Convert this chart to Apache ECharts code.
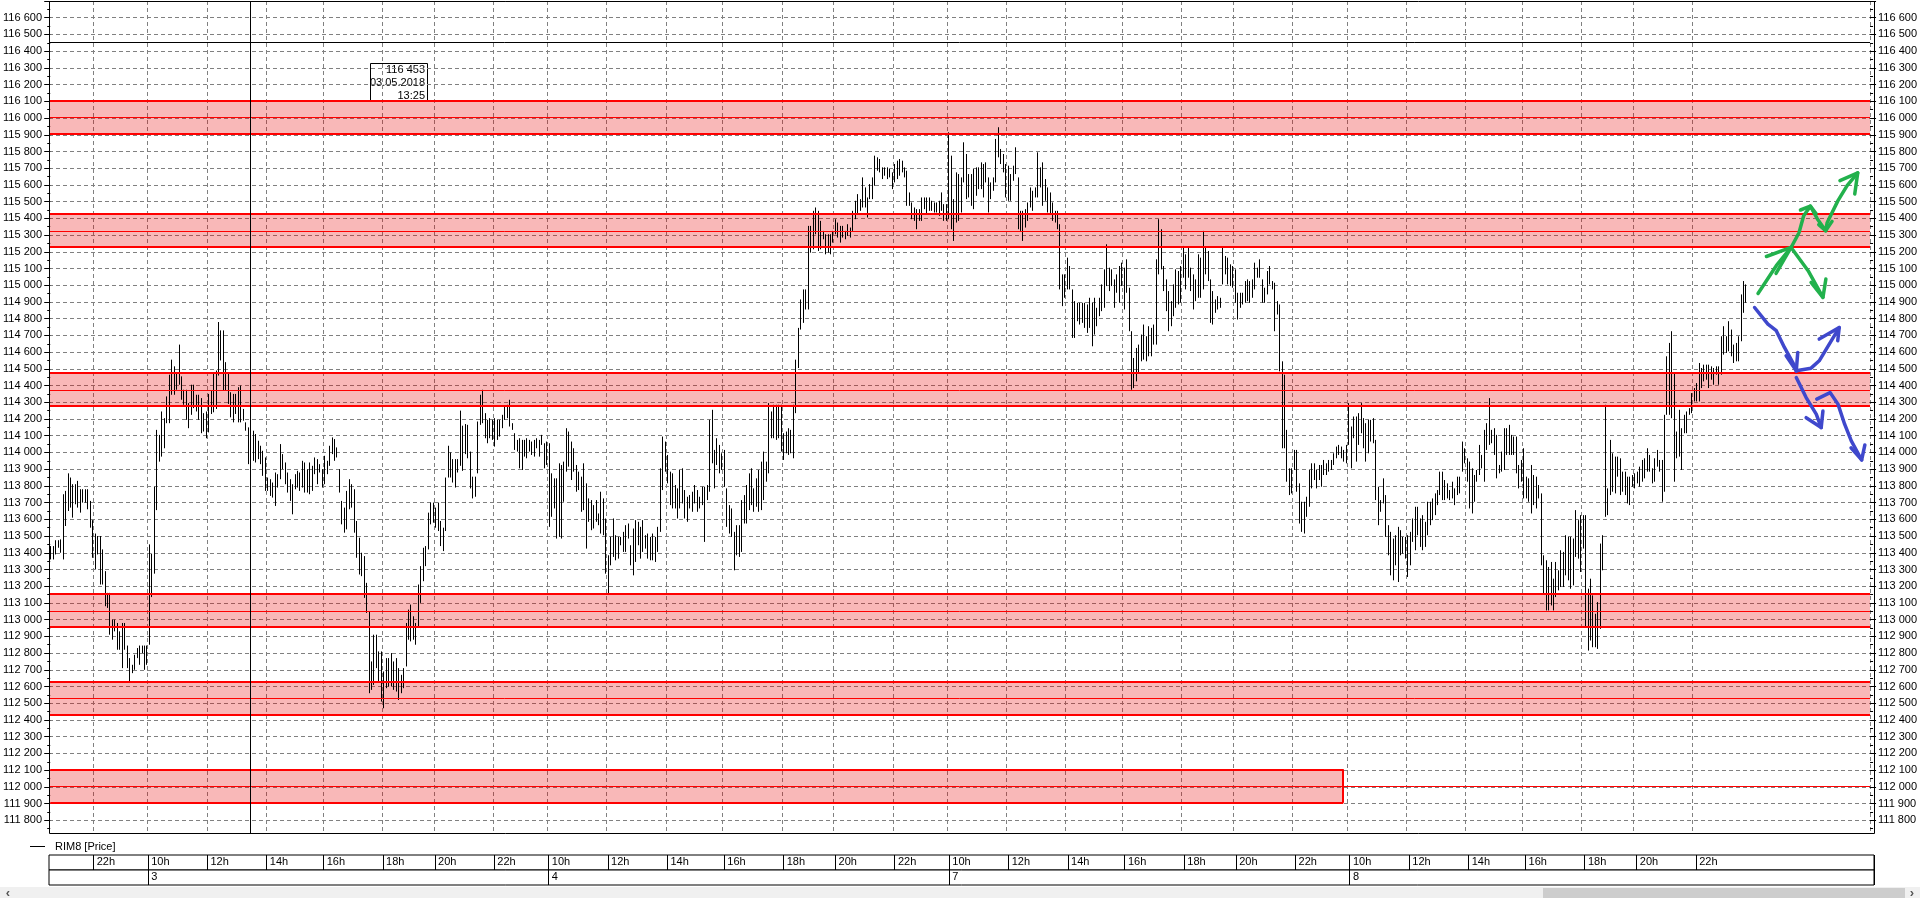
<!DOCTYPE html>
<html><head><meta charset="utf-8">
<script src="https://cdn.jsdelivr.net/npm/echarts@6/dist/echarts.min.js"></script>
<style>html,body{margin:0;padding:0;background:#fff;overflow:hidden}#c{width:1920px;height:898px}</style>
</head><body><div id="c"></div>
<script>
// ---------- time axis schedule (5-minute bars) ----------
const sessionDays = ['2', '3', '4', '7', '8'];
const firstDayBlocks = [[1230, 18], [1320, 22]];
const fullDayBlocks = [[600, 24], [720, 24], [845, 23], [960, 24], [1080, 9], [1140, 12], [1200, 24], [1320, 22]];
const labelledStarts = [600, 720, 845, 960, 1080, 1200, 1320];
const emptySlots = 50;

// ---------- price bars (high / low) per trading day ----------
const d2High = [113440,113440,113475,113475,113480,113750,113770,113875,113850,113810,113810,113830,113780,113780,113780,113780,113710,113595,
 113515,113500,113500,113420,113290,113160,113160,113000,113000,112980,112930,112980,112980,112845,112770,112730,112790,112830,112845,112845,112845,112845];
const d2Low = [113360,113360,113390,113430,113400,113360,113560,113650,113670,113610,113690,113670,113640,113700,113700,113660,113550,113370,
 113300,113390,113210,113210,113080,113070,112910,112880,112930,112820,112820,112710,112820,112710,112630,112680,112700,112770,112730,112800,112700,112730];

const d3High = [113450,113395,113795,114135,114105,114245,114205,114335,114465,114555,114515,114475,114645,114455,114375,114375,114295,114405,114405,114345,114345,114325,114235,114245,
 114350,114370,114470,114490,114780,114730,114730,114540,114480,114360,114350,114350,114390,114400,114260,114180,114150,114160,114130,114110,114070,114040,114010,113970,
 113850,113840,113820,113880,113870,114050,113990,113940,113880,113840,113810,113870,113890,113880,113950,113940,113900,113940,113920,113970,113960,113930,113900,
 113980,113950,114040,114090,114080,114030,113900,113710,113670,113770,113840,113810,113780,113590,113490,113400,113380,113220,113050,112750,112910,112910,112810,112810,
 112690,112770,112770,112800,112750,112770,112710,112670,112710,112980,113060,113090,113020,112980,113210,113320,113430,113440,113640,113700,113700,
 113670,113700,113590,113550,113850,114040,114000,113960,113960,113960,114250,114160,114170,114165,114005,113855,113855,114185,114345,114375,114235,114195,114205,114195,
 114205,114195,114195,114225,114275,114285,114315,114175,114115,114075,114085,114075,114075,114085,114075,114065,114075,114085,114075,114105,114055,114065];
const d3Low = [112850,113135,113275,113655,113945,113975,114025,114175,114175,114345,114345,114375,114405,114315,114285,114195,114145,114225,114265,114245,114195,114115,114125,114085,
 114120,114230,114240,114260,114460,114550,114370,114370,114290,114210,114180,114230,114180,114180,114190,114130,113930,114030,113950,113940,113960,113930,113860,113770,
 113770,113740,113730,113680,113790,113840,113900,113810,113760,113710,113630,113780,113790,113770,113790,113760,113760,113750,113770,113870,113810,113880,113790,
 113810,113870,113920,113990,113950,113970,113760,113570,113520,113540,113660,113670,113520,113370,113270,113260,113130,113040,112560,112580,112610,112710,112630,112510,
 112470,112590,112600,112600,112580,112570,112520,112560,112590,112720,112880,112870,112880,112850,112960,113100,113230,113320,113420,113570,113580,
 113550,113530,113440,113410,113530,113850,113850,113820,113790,113880,113920,113890,113990,113965,113785,113725,113735,113875,114165,114175,114085,114055,114085,114075,
 114035,114075,114095,114145,114195,114205,114155,114135,114015,114005,113905,113895,113975,113965,114005,113985,113975,114025,113975,114045,113905,113925];

const d4High = [114055,113875,113845,113845,113935,113925,113945,114145,114125,114065,114025,113925,113885,113855,113935,113815,113725,113715,113685,113715,113635,113765,113725,113605,
 113385,113495,113605,113505,113495,113495,113525,113565,113575,113445,113545,113595,113585,113555,113595,113505,113515,113495,113515,113495,113555,113905,114095,114065,
 113985,113885,113875,113805,113785,113895,113905,113775,113735,113745,113765,113805,113775,113735,113795,113795,113805,114195,114255,114015,114085,114045,113995,
 114015,113785,113685,113665,113525,113565,113565,113715,113745,113805,113875,113905,113785,113845,113895,113945,114005,113945,114295,114245,114285,114285,114285,114285,
 114115,114125,114145,114135,114285,114555,114745,114915,114975,114975,115355,115355,115445,115465,115445,115385,115325,115305,115305,115305,115325,
 115395,115375,115355,115355,115325,115365,115345,115445,115505,115545,115515,115645,115585,115525,115605,115645,115775,115765,115755,115705,115705,115705,115695,115675,
 115725,115745,115755,115745,115705,115685,115555,115495,115465,115455,115455,115525,115525,115525,115525,115505,115495,115495,115505,115555,115485,115485];
const d4Low = [113555,113615,113665,113485,113495,113485,113705,113885,113915,113835,113885,113765,113775,113645,113655,113425,113585,113535,113545,113585,113565,113515,113505,113275,
 113155,113325,113375,113355,113365,113445,113405,113405,113485,113325,113265,113345,113445,113365,113405,113425,113365,113355,113355,113345,113405,113525,113775,113885,
 113815,113685,113665,113665,113605,113665,113695,113605,113585,113665,113645,113695,113645,113665,113685,113465,113715,113765,113935,113785,113925,113875,113895,
 113795,113555,113515,113495,113295,113385,113375,113405,113575,113575,113655,113685,113645,113675,113645,113655,113715,113825,113875,114085,114085,114075,114085,114005,
 113955,113995,113985,113995,113965,114235,114505,114735,114775,114855,114855,115195,115215,115305,115205,115215,115275,115185,115195,115185,115255,
 115305,115285,115255,115285,115275,115295,115285,115325,115395,115425,115445,115465,115465,115405,115515,115515,115595,115685,115675,115635,115655,115635,115645,115575,
 115615,115635,115655,115675,115645,115475,115475,115395,115385,115335,115385,115385,115455,115425,115445,115445,115435,115435,115415,115445,115385,115385];

const d7High = [115915,115775,115515,115675,115665,115645,115855,115785,115665,115665,115695,115705,115705,115735,115725,115735,115645,115615,115645,115875,115945,115815,115785,115725,
 115715,115665,115715,115825,115645,115445,115445,115455,115495,115585,115565,115585,115795,115705,115735,115635,115585,115555,115495,115445,115445,115365,115065,115065,
 115165,115115,114975,114905,114895,114895,114895,114895,114885,114925,114895,114925,114865,114925,115005,115095,115245,115105,115095,115035,115065,115115,115135,
 115105,115155,114985,114725,114565,114625,114645,114705,114765,114695,114755,114745,114765,115155,115395,115335,115115,115035,114965,114905,115005,115095,115085,115115,
 115235,115185,115225,115105,115065,115035,115185,115165,115325,115225,115205,115035,114965,114915,114935,114925,115225,115175,115165,115125,115115,
 115095,114955,114955,114955,115025,115035,115025,115035,115135,115105,115155,115035,114985,115085,115115,115025,115015,114905,114885,114545,114465,114135,113905,113905,
 114015,114015,113815,113705,113705,113735,113895,113935,113935,113895,113925,113925,113955,113935,113955,113955,113995,114035,114045,114035,114015,114045];
const d7Low = [115395,115335,115265,115375,115385,115435,115615,115515,115525,115475,115455,115535,115575,115575,115525,115615,115435,115515,115565,115615,115765,115725,115675,115525,
 115505,115505,115625,115665,115335,115325,115265,115345,115385,115465,115445,115525,115525,115585,115475,115505,115435,115425,115385,115375,115335,114975,114875,114925,
 114975,114975,114685,114685,114785,114765,114775,114745,114715,114745,114635,114705,114755,114815,114845,114865,114995,114965,114995,114865,114955,114895,114995,
 114855,114955,114725,114375,114385,114425,114475,114545,114555,114545,114575,114575,114645,114645,115065,115095,114965,114845,114725,114755,114815,114865,114885,114895,
 115045,114975,115045,114965,114855,114905,114925,114925,114975,115065,115025,114775,114765,114835,114855,114865,115005,115065,115005,114995,114985,
 114895,114795,114865,114885,114895,114905,114895,114925,114975,115045,115045,114895,114895,114945,115005,114975,114725,114825,114485,114025,114025,113825,113745,113755,
 113895,113765,113575,113525,113515,113615,113675,113785,113835,113785,113835,113795,113865,113865,113885,113895,113925,113965,113985,113965,113945,113935];

const d8High = [114295,114155,114215,114215,114235,114295,114205,114175,114195,114195,114205,114075,113795,113715,113845,113745,113565,113525,113485,113505,113555,113535,113495,113495,
 113505,113525,113605,113675,113675,113605,113625,113585,113705,113705,113725,113755,113775,113885,113885,113835,113815,113775,113825,113785,113855,113855,114065,114025,
 113965,113945,113905,113865,113895,114045,113985,114135,114175,114325,114135,114145,114105,113925,114005,114145,114145,114165,114105,114095,114095,113925,113955,
 114025,113855,113845,113925,113865,113855,113805,113755,113385,113355,113315,113345,113245,113345,113295,113415,113405,113505,113495,113495,113485,113655,113595,113625,
 113625,113625,113185,113245,113145,113035,113105,113455,113505,114285,113785,114075,113995,113975,113975,113965,113885,113885,113855,113855,113865,
 113875,113885,113915,113955,113965,114025,113985,113905,113965,114015,113955,113955,114225,114575,114655,114725,114475,114125,114255,114145,114225,114245,114265,114355,
 114385,114415,114535,114505,114525,114525,114525,114515,114505,114515,114515,114695,114755,114695,114785,114735,114645,114655,114695,114945,115025,115005];
const d8Low = [114045,113905,114085,113945,114045,114115,114025,113945,113995,114065,114055,113715,113565,113645,113695,113495,113385,113265,113235,113325,113225,113385,113395,113365,
 113255,113325,113465,113415,113505,113435,113415,113435,113505,113565,113595,113625,113685,113745,113715,113715,113725,113715,113725,113685,113745,113755,113885,113935,
 113825,113665,113635,113705,113825,113865,113905,113825,114015,114045,114055,113985,113845,113875,113885,113895,113985,113985,113985,113985,113875,113785,113825,
 113725,113725,113705,113635,113685,113665,113725,113325,113155,113055,113055,113085,113055,113135,113175,113195,113195,113265,113235,113185,113205,113375,113365,113285,
 113425,112955,112815,112875,112835,112835,112825,112945,113295,113615,113625,113745,113765,113755,113855,113745,113765,113745,113695,113685,113795,
 113785,113815,113795,113825,113845,113885,113885,113815,113825,113915,113885,113705,113765,114225,114225,114205,113825,113965,113975,113895,114115,114115,114225,114235,
 114305,114305,114305,114385,114425,114435,114385,114435,114405,114465,114405,114465,114585,114595,114605,114575,114535,114545,114545,114665,114835,114895];

// ---------- levels ----------
const zoneLow = [115906, 115231, 114279, 112958, 112434, 111905];
const zoneHigh = [116105, 115430, 114479, 113154, 112628, 112105];
const zoneMid = [116003, 115325, 114372, 113053, 112528, 112002];
const lastZoneEnd = '7 23:40';

const crossPrice = 116453, crossTime = '3 13:25', crossDate = '03.05.2018', crossClock = '13:25';
const lastPrice = 114920;

// ---------- hand-drawn arrows: [slot, price] ----------
const greenStrokes = [
  [[692.1,114951],[699.5,115117],[705.5,115226],[708.7,115314],[710.6,115416],[713.3,115473],[716.1,115398],[719.5,115326],[720.1,115374],[724.5,115506],[728.2,115596],[732.5,115672]],
  [[695.5,115172],[705.5,115226],[699.4,115071]],
  [[705.5,115226],[712.4,115087],[718.4,114927]],
  [[713.6,115017],[718.4,114927],[719.6,115037]],
  [[709.3,115450],[713.3,115473],[715.6,115428]],
  [[716.7,115362],[719.5,115326],[722.1,115382]],
  [[725.3,115626],[732.5,115672],[731.3,115546]]
];
const blueStrokes = [
  [[690.7,114867],[696.1,114768],[699.5,114728],[702.8,114628],[706.2,114538],[707.6,114488]],
  [[703.5,114578],[707.6,114488],[708.2,114598]],
  [[707.6,114488],[713.6,114504],[716.9,114548],[725.0,114747]],
  [[716.9,114678],[725.0,114747],[724.4,114668]],
  [[707.6,114448],[711.6,114328],[715.7,114229],[717.7,114149]],
  [[711.6,114208],[717.7,114149],[718.4,114248]],
  [[715.9,114319],[721.3,114358],[724.5,114289],[727.2,114169],[729.9,114069],[734.1,113955]],
  [[729.8,114027],[734.1,113955],[735.4,114045]]
];

// ---------- build categories ----------
const pad = n => (n < 10 ? '0' : '') + n;
const cats = [], hourLabel = [], dayLabel = [];
sessionDays.forEach((d, di) => {
  (di === 0 ? firstDayBlocks : fullDayBlocks).forEach(([start, count]) => {
    for (let k = 0; k < count; k++) {
      const m = start + 5 * k;
      cats.push(d + ' ' + pad(Math.floor(m / 60)) + ':' + pad(m % 60));
      hourLabel.push(k === 0 && labelledStarts.includes(start) ? Math.floor(start / 60) + 'h' : '');
      dayLabel.push(k === 0 && start === 600 ? d : '');
    }
  });
});
for (let k = 0; k < emptySlots; k++) { cats.push('+' + k); hourLabel.push(''); dayLabel.push(''); }
const N = cats.length;

const highs = [].concat(d2High, d3High, d4High, d7High, d8High);
const lows = [].concat(d2Low, d3Low, d4Low, d7Low, d8Low);
const bars = highs.map((h, i) => [i, lows[i], h]);

const fmt = v => String(v).replace(/\B(?=(\d{3})+(?!\d))/g, ' ');
const FONT = 'Liberation Sans, Arial, sans-serif';
const RED = '#ff0000';

const zoneAreas = zoneLow.map((lo, i) => i === zoneLow.length - 1
  ? [{ yAxis: lo }, { xAxis: lastZoneEnd, yAxis: zoneHigh[i] }]
  : [{ yAxis: lo }, { yAxis: zoneHigh[i] }]);
const zoneLines = [];
zoneLow.forEach((lo, i) => {
  if (i === zoneLow.length - 1) {
    zoneLines.push([{ xAxis: cats[0], yAxis: lo, lineStyle: { width: 2 } }, { xAxis: lastZoneEnd, yAxis: lo }]);
    zoneLines.push([{ xAxis: cats[0], yAxis: zoneHigh[i], lineStyle: { width: 2 } }, { xAxis: lastZoneEnd, yAxis: zoneHigh[i] }]);
    zoneLines.push([{ xAxis: lastZoneEnd, yAxis: lo, lineStyle: { width: 2 } }, { xAxis: lastZoneEnd, yAxis: zoneHigh[i] }]);
  } else {
    zoneLines.push({ yAxis: lo, lineStyle: { width: 2 } });
    zoneLines.push({ yAxis: zoneHigh[i], lineStyle: { width: 2 } });
  }
  zoneLines.push({ yAxis: zoneMid[i], lineStyle: { width: 1 } });
});

const dash = { color: '#808080', width: 1, type: [4, 3] };
const yCommon = {
  type: 'value', min: 111700, max: 116700, interval: 100,
  axisLine: { show: false },
  axisTick: { show: true, length: 6, lineStyle: { color: '#000' } },
  minorTick: { show: true, splitNumber: 2, length: 3, lineStyle: { color: '#000' } },
  axisLabel: { formatter: fmt, color: '#000', fontSize: 11, fontFamily: FONT, showMinLabel: false, showMaxLabel: false },
};

const strokeSeries = (strokes, color) => strokes.map(s => ({
  type: 'line', xAxisIndex: 1, yAxisIndex: 0, data: s, symbol: 'none', showSymbol: false,
  lineStyle: { color, width: 3.5, cap: 'round', join: 'round' }, silent: true, z: 6, clip: false, animation: false
}));

const chart = echarts.init(document.getElementById('c'), null, { renderer: 'canvas' });
chart.setOption({
  animation: false,
  textStyle: { fontFamily: FONT },
  grid: [
    { left: 49, right: 46, top: 1, height: 836, containLabel: false },
    { left: 49, right: 46, top: 855, height: 15, show: true, borderColor: '#000', borderWidth: 1, backgroundColor: '#fff' },
    { left: 49, right: 46, top: 870, height: 15, show: true, borderColor: '#000', borderWidth: 1, backgroundColor: '#fff' }
  ],
  xAxis: [
    { type: 'category', gridIndex: 0, data: cats, boundaryGap: true,
      axisLine: { show: false }, axisTick: { show: false }, axisLabel: { show: false },
      splitLine: { show: true, interval: (i) => hourLabel[i] !== '', lineStyle: dash } },
    { type: 'value', gridIndex: 0, min: -0.5, max: N - 0.5, show: false },
    { type: 'category', gridIndex: 1, data: cats, boundaryGap: true, position: 'bottom',
      axisLine: { show: false }, axisTick: { show: false },
      axisLabel: { show: true, inside: true, interval: (i) => hourLabel[i] !== '', formatter: (v, i) => hourLabel[i],
        align: 'left', verticalAlign: 'middle', margin: 8, padding: [0, 0, 0, 2], color: '#000', fontSize: 11, fontFamily: FONT },
      splitLine: { show: true, interval: (i) => hourLabel[i] !== '', lineStyle: { color: '#000', width: 1 } } },
    { type: 'category', gridIndex: 2, data: cats, boundaryGap: true, position: 'bottom',
      axisLine: { show: false }, axisTick: { show: false },
      axisLabel: { show: true, inside: true, interval: (i) => dayLabel[i] !== '', formatter: (v, i) => dayLabel[i],
        align: 'left', verticalAlign: 'middle', margin: 8, padding: [0, 0, 0, 2], color: '#000', fontSize: 11, fontFamily: FONT },
      splitLine: { show: true, interval: (i) => dayLabel[i] !== '', lineStyle: { color: '#000', width: 1 } } }
  ],
  yAxis: [
    Object.assign({}, yCommon, { gridIndex: 0, position: 'left', axisLabel: Object.assign({}, yCommon.axisLabel, { margin: 7 }),
      splitLine: { show: true, lineStyle: dash, showMinLine: false } }),
    Object.assign({}, yCommon, { gridIndex: 0, position: 'right', axisLabel: Object.assign({}, yCommon.axisLabel, { margin: 8 }),
      splitLine: { show: false } }),
    { type: 'value', gridIndex: 1, show: false },
    { type: 'value', gridIndex: 2, show: false }
  ],
  legend: {
    data: [{ name: 'RIM8 [Price]', icon: 'rect' }], left: 25, top: 836, itemWidth: 15, itemHeight: 1,
    selectedMode: false, textStyle: { color: '#000', fontSize: 11, fontFamily: FONT, padding: [0, 0, 0, 5] }
  },
  series: [
    { name: 'zones', type: 'line', data: [], xAxisIndex: 0, yAxisIndex: 0, z: 1, silent: true,
      markArea: { silent: true, itemStyle: { color: 'rgba(235,0,0,0.28)', borderWidth: 0 }, data: zoneAreas },
      markLine: { silent: true, symbol: ['none', 'none'], label: { show: false }, lineStyle: { color: RED, type: 'solid', width: 1 }, data: zoneLines }
    },
    { name: 'RIM8 [Price]', type: 'custom', xAxisIndex: 0, yAxisIndex: 0, z: 3, silent: true,
      itemStyle: { color: '#000' },
      encode: { x: 0, y: [1, 2] },
      data: bars,
      renderItem: (params, api) => {
        const i = api.value(0);
        const lo = api.coord([i, api.value(1)]);
        const hi = api.coord([i, api.value(2)]);
        const x = Math.round(lo[0]) + 0.5;
        return { type: 'line', shape: { x1: x, y1: lo[1], x2: x, y2: hi[1] }, style: { stroke: '#000', lineWidth: 1 } };
      },
      markLine: { silent: true, symbol: ['none', 'none'], label: { show: false }, animation: false,
        data: [
          { yAxis: crossPrice, lineStyle: { color: '#000', width: 1, type: 'solid' } },
          { xAxis: crossTime, lineStyle: { color: '#000', width: 1, type: 'solid' } },
          { yAxis: lastPrice, lineStyle: { opacity: 0 },
            label: { show: true, position: 'end', distance: 6, formatter: fmt(lastPrice), color: '#000', fontSize: 11, fontFamily: FONT,
              backgroundColor: '#fff', borderColor: '#000', borderWidth: 1, padding: [2, 3, 1, 3] } }
        ] }
    }
  ].concat(strokeSeries(greenStrokes, '#22b14c'), strokeSeries(blueStrokes, '#3f48cc')),
  graphic: [
    { type: 'rect', z: 99, silent: true, shape: { x: 0, y: 834, width: 1920, height: 7 }, style: { fill: '#fff' } },
    { type: 'rect', z: 100, silent: true, shape: { x: 49.5, y: 1.5, width: 1825, height: 832 }, style: { fill: null, stroke: '#000', lineWidth: 1 } },
    { type: 'group', z: 100, silent: true, children: [
      { type: 'rect', shape: { x: 370.5, y: 63.5, width: 57, height: 37 }, style: { fill: '#fff', stroke: '#000', lineWidth: 1 } },
      { type: 'text', style: { x: 425, y: 70, text: fmt(crossPrice), align: 'right', verticalAlign: 'middle', fill: '#000', font: '11px ' + FONT } },
      { type: 'text', style: { x: 425, y: 83, text: crossDate, align: 'right', verticalAlign: 'middle', fill: '#000', font: '11px ' + FONT } },
      { type: 'text', style: { x: 425, y: 96, text: crossClock, align: 'right', verticalAlign: 'middle', fill: '#000', font: '11px ' + FONT } }
    ] },
    { type: 'group', z: 100, silent: true, children: [
      { type: 'rect', shape: { x: 0, y: 887, width: 1920, height: 11 }, style: { fill: '#f0f0f0' } },
      { type: 'rect', shape: { x: 1543, y: 888, width: 362, height: 10 }, style: { fill: '#cdcdcd' } },
      { type: 'text', style: { x: 8, y: 893, text: '‹', align: 'center', verticalAlign: 'middle', fill: '#555', font: 'bold 13px ' + FONT } },
      { type: 'text', style: { x: 1912, y: 893, text: '›', align: 'center', verticalAlign: 'middle', fill: '#555', font: 'bold 13px ' + FONT } }
    ] }
  ]
});
</script>
</body></html>
